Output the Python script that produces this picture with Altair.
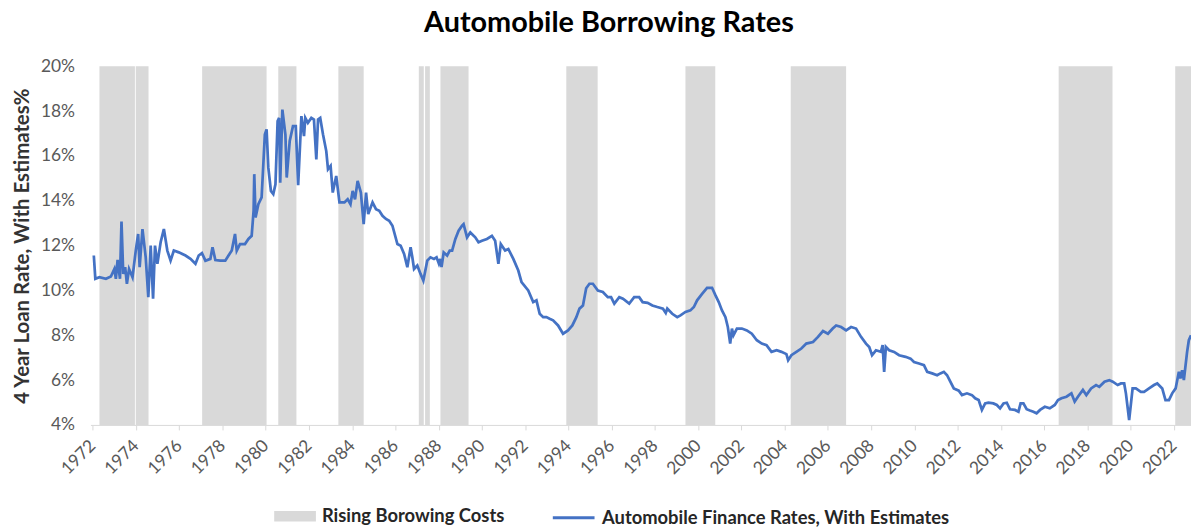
import altair as alt
import pandas as pd

# ---- data ----
rate_years = [
    1972.05, 1972.12, 1972.31, 1972.61, 1972.84, 1973.00, 1973.07, 1973.15, 1973.26, 1973.33,
    1973.41, 1973.50, 1973.58, 1973.68, 1973.84, 1973.99, 1974.10, 1974.17, 1974.30, 1974.45,
    1974.57, 1974.68, 1974.79, 1974.88, 1974.99, 1975.14, 1975.29, 1975.45, 1975.60, 1975.75,
    1975.98, 1976.29, 1976.52, 1976.75, 1976.90, 1977.05, 1977.21, 1977.44, 1977.54, 1977.67,
    1977.90, 1978.13, 1978.28, 1978.43, 1978.58, 1978.66, 1978.81, 1979.04, 1979.20, 1979.35,
    1979.44, 1979.47, 1979.53, 1979.66, 1979.81, 1979.96, 1980.04, 1980.12, 1980.24, 1980.35,
    1980.45, 1980.55, 1980.62, 1980.67, 1980.77, 1980.91, 1980.97, 1981.11, 1981.26, 1981.39,
    1981.50, 1981.65, 1981.77, 1981.83, 1981.95, 1982.11, 1982.23, 1982.34, 1982.42, 1982.52,
    1982.65, 1982.80, 1982.88, 1983.00, 1983.10, 1983.26, 1983.41, 1983.64, 1983.79, 1983.92,
    1984.02, 1984.13, 1984.25, 1984.40, 1984.53, 1984.64, 1984.74, 1984.94, 1985.10, 1985.25,
    1985.40, 1985.56, 1985.71, 1985.86, 1986.09, 1986.24, 1986.40, 1986.55, 1986.70, 1986.78,
    1986.86, 1987.01, 1987.16, 1987.29, 1987.47, 1987.62, 1987.78, 1987.90, 1988.01, 1988.08,
    1988.13, 1988.23, 1988.39, 1988.51, 1988.62, 1988.77, 1988.92, 1989.08, 1989.15, 1989.31,
    1989.46, 1989.69, 1989.84, 1990.00, 1990.23, 1990.46, 1990.61, 1990.76, 1990.87, 1991.07,
    1991.22, 1991.45, 1991.68, 1991.83, 1992.14, 1992.37, 1992.52, 1992.67, 1992.83, 1992.98,
    1993.13, 1993.29, 1993.52, 1993.75, 1993.98, 1994.18, 1994.36, 1994.51, 1994.67, 1994.82,
    1994.97, 1995.13, 1995.36, 1995.59, 1995.82, 1995.97, 1996.12, 1996.35, 1996.52, 1996.81,
    1997.04, 1997.27, 1997.43, 1997.66, 1997.88, 1998.11, 1998.37, 1998.50, 1998.57, 1998.80,
    1999.03, 1999.18, 1999.41, 1999.64, 1999.80, 1999.95, 2000.18, 2000.41, 2000.64, 2000.80,
    2000.95, 2001.10, 2001.26, 2001.37, 2001.48, 2001.56, 2001.63, 2001.79, 2002.02, 2002.25,
    2002.48, 2002.71, 2002.94, 2003.16, 2003.39, 2003.63, 2003.85, 2004.08, 2004.16, 2004.31,
    2004.54, 2004.77, 2005.00, 2005.31, 2005.54, 2005.77, 2006.00, 2006.22, 2006.38, 2006.61,
    2006.84, 2007.07, 2007.30, 2007.53, 2007.76, 2007.91, 2008.04, 2008.22, 2008.45, 2008.53,
    2008.60, 2008.68, 2008.83, 2009.06, 2009.29, 2009.59, 2009.82, 2009.98, 2010.21, 2010.44,
    2010.59, 2010.82, 2011.05, 2011.20, 2011.36, 2011.51, 2011.66, 2011.82, 2012.05, 2012.20,
    2012.43, 2012.66, 2012.81, 2012.97, 2013.12, 2013.27, 2013.42, 2013.65, 2013.81, 2013.96,
    2014.12, 2014.27, 2014.42, 2014.65, 2014.81, 2014.91, 2015.04, 2015.19, 2015.34, 2015.50,
    2015.65, 2015.81, 2016.03, 2016.26, 2016.49, 2016.64, 2016.80, 2017.03, 2017.26, 2017.41,
    2017.56, 2017.79, 2017.95, 2018.17, 2018.40, 2018.55, 2018.79, 2019.01, 2019.17, 2019.40,
    2019.55, 2019.70, 2019.78, 2019.93, 2020.09, 2020.24, 2020.47, 2020.62, 2020.85, 2021.08,
    2021.23, 2021.46, 2021.61, 2021.77, 2021.92, 2022.08, 2022.23, 2022.30, 2022.38, 2022.46,
    2022.61, 2022.69, 2022.79,
]
rate_values = [
    11.56, 10.52, 10.59, 10.52, 10.62, 10.96, 10.52, 11.36, 10.52, 13.08,
    10.74, 11.04, 10.30, 10.96, 10.59, 11.78, 12.52, 11.04, 12.74, 11.48,
    9.70, 12.00, 9.63, 12.00, 11.19, 12.15, 12.74, 11.78, 11.33, 11.78,
    11.70, 11.56, 11.41, 11.19, 11.56, 11.67, 11.33, 11.41, 11.93, 11.36,
    11.33, 11.33, 11.56, 11.78, 12.52, 11.78, 12.07, 12.07, 12.30, 12.44,
    13.56, 15.19, 13.26, 13.85, 14.15, 16.96, 17.19, 15.48, 14.44, 14.30,
    14.74, 17.56, 17.70, 14.81, 18.07, 16.96, 15.04, 16.67, 17.33, 17.33,
    14.70, 17.78, 16.89, 17.70, 17.48, 17.70, 17.63, 15.85, 17.63, 17.70,
    16.96, 16.22, 15.41, 15.56, 14.37, 15.11, 13.93, 13.93, 14.07, 13.85,
    14.44, 14.07, 14.89, 14.37, 12.96, 14.37, 13.41, 13.93, 13.63, 13.56,
    13.33, 13.19, 13.11, 12.89, 12.07, 12.00, 11.63, 11.04, 11.93, 11.48,
    10.96, 11.11, 10.74, 10.44, 11.33, 11.48, 11.41, 11.48, 11.19, 11.41,
    11.04, 11.70, 11.56, 11.78, 11.78, 12.30, 12.67, 12.89, 12.96, 12.37,
    12.59, 12.37, 12.15, 12.22, 12.30, 12.44, 12.22, 11.19, 12.07, 11.78,
    11.85, 11.41, 10.89, 10.37, 10.00, 9.48, 9.56, 8.96, 8.81, 8.81,
    8.74, 8.67, 8.44, 8.07, 8.22, 8.44, 8.80, 9.19, 9.33, 10.10,
    10.30, 10.30, 10.00, 9.93, 9.70, 9.70, 9.41, 9.70, 9.63, 9.41,
    9.70, 9.70, 9.48, 9.45, 9.33, 9.26, 9.19, 9.00, 9.19, 8.96,
    8.81, 8.89, 9.04, 9.11, 9.26, 9.56, 9.85, 10.12, 10.12, 9.78,
    9.48, 9.11, 8.81, 8.37, 7.63, 8.30, 8.00, 8.30, 8.30, 8.22,
    8.07, 7.78, 7.63, 7.56, 7.26, 7.33, 7.26, 7.16, 6.89, 7.11,
    7.26, 7.41, 7.63, 7.70, 7.93, 8.19, 8.07, 8.30, 8.44, 8.37,
    8.22, 8.37, 8.30, 7.93, 7.63, 7.48, 7.11, 7.33, 7.26, 7.56,
    6.37, 7.48, 7.33, 7.26, 7.11, 7.04, 6.96, 6.81, 6.74, 6.67,
    6.37, 6.30, 6.22, 6.30, 6.37, 6.22, 5.93, 5.63, 5.53, 5.33,
    5.41, 5.33, 5.19, 5.11, 4.67, 4.96, 4.99, 4.96, 4.89, 4.74,
    4.96, 4.99, 4.70, 4.67, 4.59, 4.96, 4.96, 4.70, 4.64, 4.59,
    4.52, 4.67, 4.81, 4.74, 4.89, 5.11, 5.19, 5.26, 5.41, 5.04,
    5.26, 5.56, 5.33, 5.63, 5.78, 5.70, 5.93, 6.00, 5.93, 5.78,
    5.85, 5.85, 5.41, 4.22, 5.63, 5.63, 5.48, 5.48, 5.63, 5.78,
    5.85, 5.63, 5.11, 5.11, 5.41, 5.63, 6.37, 6.07, 6.44, 6.00,
    7.26, 7.78, 8.00,
]

band_starts = [1972.31, 1973.99, 1977.06, 1980.58, 1983.36, 1987.08, 1987.37, 1988.08,
               1993.90, 1999.41, 2004.28, 2016.67, 2022.06]
band_ends = [1973.95, 1974.58, 1980.04, 1981.42, 1984.53, 1987.31, 1987.59, 1989.38,
             1995.35, 2000.79, 2006.84, 2019.16, 2022.79]

year_ticks = list(range(1972, 2023, 2))
pct_ticks = list(range(4, 21, 2))

BAND_LABEL = "Rising Borowing Costs"
LINE_LABEL = "Automobile Finance Rates, With Estimates"
TITLE = "Automobile Borrowing Rates"
Y_TITLE = "4 Year Loan Rate, With Estimates%"

FONT = "Lato"

bands_df = pd.DataFrame({"start": band_starts, "end": band_ends, "series": BAND_LABEL})
rates_df = pd.DataFrame({"year": rate_years, "rate": rate_values, "series": LINE_LABEL})

x_scale = alt.Scale(domain=[1971.894, 2022.79], nice=False, zero=False)
y_scale = alt.Scale(domain=[4, 20], nice=False, zero=False)

legend_common = dict(
    title=None,
    orient="none",
    direction="horizontal",
    padding=0,
    labelFont=FONT,
    labelFontSize=18.5,
    labelFontWeight="bold",
    labelColor="#262626",
    labelOffset=6,
    labelLimit=0,
    symbolSize=1764,
    symbolOpacity=1,
)

band_legend = alt.Legend(
    legendX=185,
    legendY=432,
    symbolType="M-1,-0.25H1V0.25H-1Z",
    symbolStrokeWidth=0,
    **legend_common,
)
line_legend = alt.Legend(
    legendX=464,
    legendY=432,
    symbolType="stroke",
    symbolStrokeWidth=3,
    **legend_common,
)

x_axis = alt.Axis(
    title=None,
    values=year_ticks,
    format="d",
    labelAngle=-45,
    labelAlign="right",
    labelBaseline="middle",
    labelFont=FONT,
    labelFontSize=17.5,
    labelColor="#595959",
    labelPadding=13,
    tickSize=5,
    tickColor="#D9D9D9",
    domainColor="#D9D9D9",
    domainWidth=1,
    grid=False,
    labelOverlap=False,
)

y_axis = alt.Axis(
    title=Y_TITLE,
    values=pct_ticks,
    labelExpr="datum.value + '%'",
    labelFont=FONT,
    labelFontSize=17.5,
    labelColor="#595959",
    labelPadding=16,
    ticks=False,
    domain=False,
    grid=False,
    titleFont=FONT,
    titleFontSize=20.5,
    titleFontWeight="bold",
    titleColor="#333333",
    titleX=-58,
    titleBaseline="bottom",
)

bands = alt.Chart(bands_df).mark_rect(opacity=1).encode(
    x=alt.X("start:Q", scale=x_scale, axis=x_axis),
    x2="end:Q",
    fill=alt.Fill("series:N", scale=alt.Scale(domain=[BAND_LABEL], range=["#D9D9D9"]), legend=band_legend),
)

line = alt.Chart(rates_df).mark_line(strokeWidth=2.75, clip=True).encode(
    x=alt.X("year:Q", scale=x_scale, axis=x_axis),
    y=alt.Y("rate:Q", scale=y_scale, axis=y_axis),
    stroke=alt.Stroke("series:N", scale=alt.Scale(domain=[LINE_LABEL], range=["#4472C4"]), legend=line_legend),
)

chart = alt.layer(bands, line).properties(
    width=1108,
    height=361,
    title=alt.Title(
        TITLE,
        font=FONT,
        fontSize=29,
        fontWeight="bold",
        color="#000000",
        anchor="middle",
        dx=-32,
        offset=20,
    ),
    autosize=alt.AutoSizeParams(type="none"),
    padding={"left": 83, "top": 57, "right": 0, "bottom": 101},
).configure_view(stroke=None)

chart.save("out.html", embed_options={"renderer": "svg", "actions": False})
